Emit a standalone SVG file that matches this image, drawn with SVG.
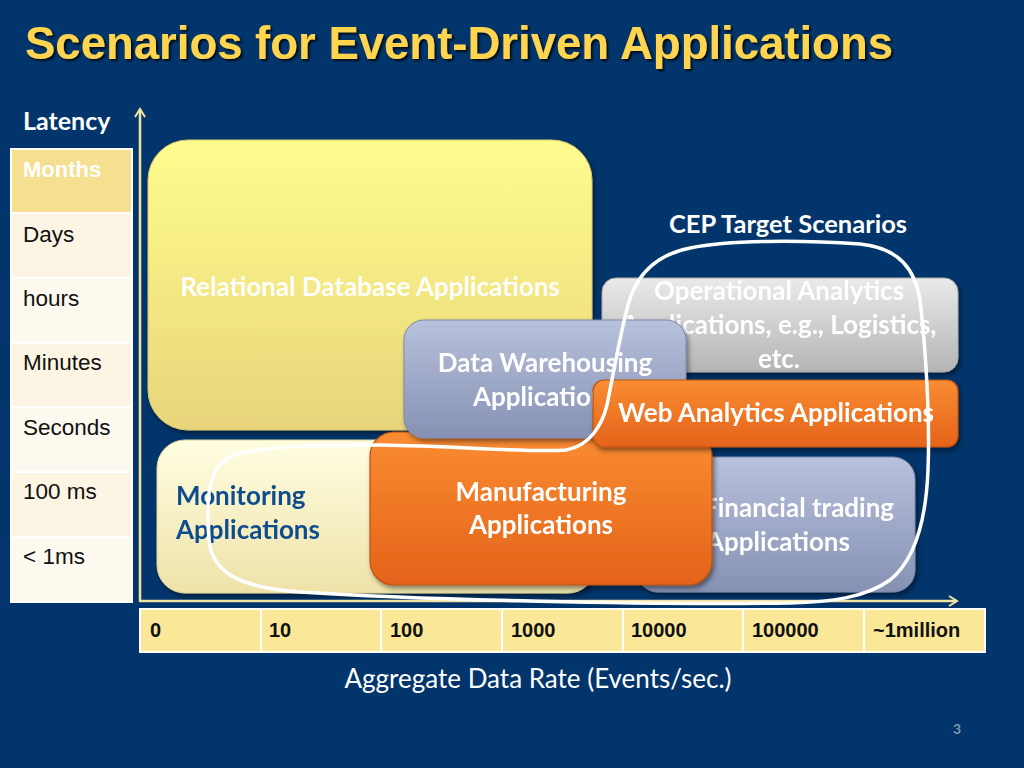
<svg xmlns="http://www.w3.org/2000/svg" width="1024" height="768" viewBox="0 0 1024 768">
<defs>
  <linearGradient id="gYellow" x1="0" y1="0" x2="0" y2="1">
    <stop offset="0" stop-color="#FFFC8E"/>
    <stop offset="1" stop-color="#E8D57A"/>
  </linearGradient>
  <linearGradient id="gPale" x1="0" y1="0" x2="0" y2="1">
    <stop offset="0" stop-color="#FFFEE2"/>
    <stop offset="1" stop-color="#EEE2A8"/>
  </linearGradient>
  <linearGradient id="gSlate" x1="0" y1="0" x2="0" y2="1">
    <stop offset="0" stop-color="#B8C2DC"/>
    <stop offset="1" stop-color="#8690B3"/>
  </linearGradient>
  <linearGradient id="gGrey" x1="0" y1="0" x2="0" y2="1">
    <stop offset="0" stop-color="#EAEAEA"/>
    <stop offset="1" stop-color="#B4B4B4"/>
  </linearGradient>
  <linearGradient id="gOrange" x1="0" y1="0" x2="0" y2="1">
    <stop offset="0" stop-color="#FA8C32"/>
    <stop offset="1" stop-color="#E4631A"/>
  </linearGradient>
  <filter id="shadow" x="-10%" y="-10%" width="120%" height="130%">
    <feDropShadow dx="2" dy="3" stdDeviation="2.5" flood-color="#000" flood-opacity="0.45"/>
  </filter>
  <filter id="tshadow" x="-5%" y="-20%" width="110%" height="150%">
    <feDropShadow dx="2" dy="2" stdDeviation="0.8" flood-color="#000" flood-opacity="0.8"/>
  </filter>
  <marker id="chev" viewBox="0 0 12 12" refX="10" refY="6" markerWidth="12" markerHeight="12" markerUnits="userSpaceOnUse" orient="auto">
    <path d="M2,1 L10,6 L2,11" fill="none" stroke="#F2E3A2" stroke-width="2"/>
  </marker>
  <style>
    .box-t { font-family: Lato, "Open Sans", sans-serif; font-weight: bold; font-size: 26px; fill: #FFFFFF; text-anchor: middle; }
    .box-l { font-family: Lato, "Open Sans", sans-serif; font-weight: bold; font-size: 26px; fill: #FFFFFF; text-anchor: start; }
    .mon { font-family: Lato, "Open Sans", sans-serif; font-weight: bold; font-size: 26px; fill: #114D8E; }
    .lat { font-family: "Liberation Sans", Arial, sans-serif; font-size: 22.5px; fill: #111111; }
    .num { font-family: "Liberation Sans", Arial, sans-serif; font-weight: bold; font-size: 20px; fill: #111111; }
    .cell { stroke: #FFFFFF; stroke-width: 2; }
    .axis { stroke: #F2E3A2; stroke-width: 2.5; fill: none; }
  </style>
</defs>

<rect x="0" y="0" width="1024" height="768" fill="#01356B"/>

<text x="25" y="59" font-family="Liberation Sans, Arial, sans-serif" font-weight="bold" font-size="46" fill="#FFD44F" textLength="868" lengthAdjust="spacingAndGlyphs" filter="url(#tshadow)">Scenarios for Event-Driven Applications</text>

<text x="23" y="130" font-family="Lato, 'Open Sans', sans-serif" font-weight="bold" font-size="25" fill="#FFFFFF">Latency</text>

<g id="latency-table">
  <rect class="cell" x="11" y="149" width="121" height="64" fill="#F4E090"/>
  <rect class="cell" x="11" y="213" width="121" height="65" fill="#FCF5E3"/>
  <rect class="cell" x="11" y="278" width="121" height="65" fill="#FDF9EF"/>
  <rect class="cell" x="11" y="343" width="121" height="64" fill="#FCF5E3"/>
  <rect class="cell" x="11" y="407" width="121" height="65" fill="#FDF9EF"/>
  <rect class="cell" x="11" y="472" width="121" height="65" fill="#FCF5E3"/>
  <rect class="cell" x="11" y="537" width="121" height="65" fill="#FDF9EF"/>
  <text x="23" y="177" font-family="Liberation Sans, Arial, sans-serif" font-weight="bold" font-size="22" fill="#FFFFFF">Months</text>
  <text class="lat" x="23" y="242">Days</text>
  <text class="lat" x="23" y="306">hours</text>
  <text class="lat" x="23" y="370">Minutes</text>
  <text class="lat" x="23" y="435">Seconds</text>
  <text class="lat" x="23" y="499">100 ms</text>
  <text class="lat" x="23" y="564">&lt; 1ms</text>
</g>

<g id="rate-table">
  <rect class="cell" x="140" y="609" width="121" height="43" fill="#FBE798"/>
  <rect class="cell" x="261" y="609" width="120" height="43" fill="#FBE798"/>
  <rect class="cell" x="381" y="609" width="121" height="43" fill="#FBE798"/>
  <rect class="cell" x="502" y="609" width="121" height="43" fill="#FBE798"/>
  <rect class="cell" x="623" y="609" width="120" height="43" fill="#FBE798"/>
  <rect class="cell" x="743" y="609" width="121" height="43" fill="#FBE798"/>
  <rect class="cell" x="864" y="609" width="121" height="43" fill="#FBE798"/>
  <text class="num" x="150" y="637">0</text>
  <text class="num" x="269" y="637">10</text>
  <text class="num" x="390" y="637">100</text>
  <text class="num" x="511" y="637">1000</text>
  <text class="num" x="631" y="637">10000</text>
  <text class="num" x="752" y="637">100000</text>
  <text class="num" x="873" y="637">~1million</text>
</g>

<text x="538" y="688" font-family="Lato, 'Open Sans', sans-serif" font-size="26" fill="#FFFFFF" text-anchor="middle">Aggregate Data Rate (Events/sec.)</text>
<text x="957" y="734" font-family="Lato, 'Open Sans', sans-serif" font-weight="bold" font-size="14" fill="#8393AE" text-anchor="middle">3</text>

<g id="node-relational" filter="url(#shadow)">
  <rect x="148" y="140" width="444" height="290" rx="40" fill="url(#gYellow)" stroke="#D9C66E" stroke-width="1"/>
  <text class="box-t" x="370" y="296">Relational Database Applications</text>
</g>

<g id="node-monitoring" filter="url(#shadow)">
  <rect x="157" y="440" width="439" height="153" rx="28" fill="url(#gPale)" stroke="#E0D49A" stroke-width="1"/>
  <text class="mon" x="176" y="505">Monitoring</text>
  <text class="mon" x="176" y="539">Applications</text>
</g>

<g id="node-financial" filter="url(#shadow)">
  <rect x="636" y="457" width="279" height="135" rx="22" fill="url(#gSlate)" stroke="#7C87AA" stroke-width="1"/>
  <text class="box-l" x="703" y="517">Financial trading</text>
  <text class="box-l" x="706" y="551">Applications</text>
</g>

<g id="node-manufacturing" filter="url(#shadow)">
  <rect x="370" y="432" width="342" height="153" rx="24" fill="url(#gOrange)" stroke="#B9520F" stroke-width="1.2"/>
  <text class="box-t" x="541" y="501">Manufacturing</text>
  <text class="box-t" x="541" y="534">Applications</text>
</g>

<g id="node-operational" filter="url(#shadow)">
  <rect x="602" y="278" width="356" height="94" rx="14" fill="url(#gGrey)" stroke="#A8A8A8" stroke-width="1"/>
  <text class="box-t" x="779" y="300">Operational Analytics</text>
  <text class="box-t" x="779" y="334">Applications, e.g., Logistics,</text>
  <text class="box-t" x="779" y="368">etc.</text>
</g>

<g id="node-datawarehousing" filter="url(#shadow)">
  <rect x="404" y="320" width="282" height="118" rx="20" fill="url(#gSlate)" stroke="#7C87AA" stroke-width="1"/>
  <text class="box-t" x="545" y="372">Data Warehousing</text>
  <text class="box-t" x="545" y="406">Applications</text>
</g>

<g id="node-webanalytics" filter="url(#shadow)">
  <rect x="593" y="380" width="365" height="67" rx="11" fill="url(#gOrange)" stroke="#B9520F" stroke-width="1.2"/>
  <text class="box-t" x="776" y="422">Web Analytics Applications</text>
</g>

<g id="connectors">
  <line class="axis" x1="140" y1="602" x2="140" y2="109" marker-end="url(#chev)"/>
  <line class="axis" x1="139" y1="601" x2="957" y2="601" marker-end="url(#chev)"/>
</g>

<g id="cep-region">
  <path d="M 690,248 C 730,240 800,240 860,244 C 900,248 915,270 920,300 C 926,350 930,420 928,470 C 926,520 915,560 890,580 C 865,598 830,602 790,603 C 650,605 420,600 300,592 C 245,588 212,575 209,540 C 206,505 207,472 226,459 C 245,446 320,445 380,445 C 460,446 530,453 566,450 C 590,446 602,425 607,405 C 614,370 620,335 628,305 C 636,275 655,255 690,248 Z" fill="none" stroke="#FFFFFF" stroke-width="3.5"/>
  <text x="788" y="233" font-family="Lato, 'Open Sans', sans-serif" font-weight="bold" font-size="25.5" fill="#FFFFFF" text-anchor="middle">CEP Target Scenarios</text>
</g>
</svg>
